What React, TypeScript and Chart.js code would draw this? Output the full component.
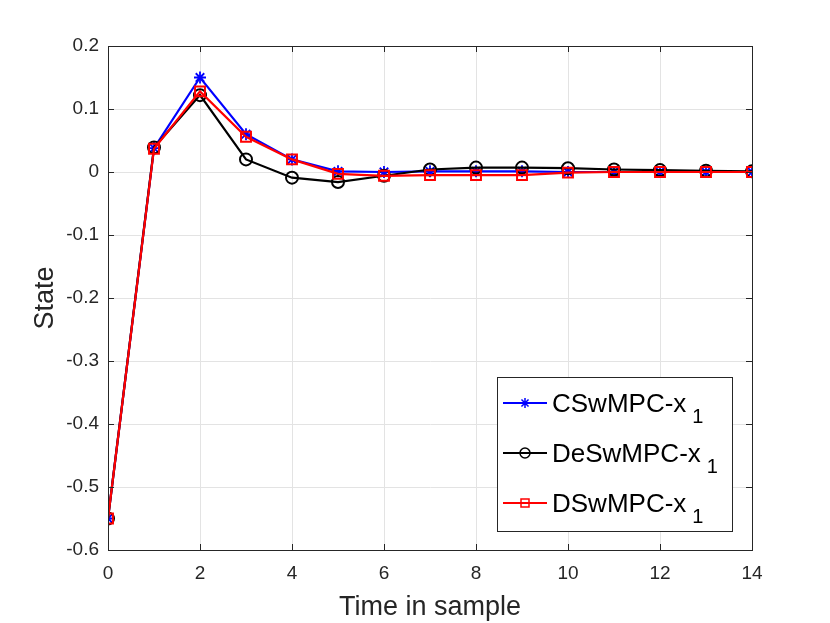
import { useEffect, useRef } from 'react';
import { Chart, registerables } from 'chart.js';

Chart.register(...registerables);

const timeSteps = [0, 1, 2, 3, 4, 5, 6, 7, 8, 9, 10, 11, 12, 13, 14];
const cswmpcX1 = [-0.55, 0.038, 0.15, 0.06, 0.02, 0.001, 0.0, 0.001, 0.001, 0.001, 0.0, 0.0, 0.0, 0.0, 0.0];
const deswmpcX1 = [-0.55, 0.039, 0.122, 0.02, -0.009, -0.016, -0.006, 0.004, 0.007, 0.007, 0.006, 0.004, 0.003, 0.002, 0.001];
const dswmpcX1 = [-0.55, 0.037, 0.128, 0.056, 0.02, -0.003, -0.006, -0.005, -0.005, -0.005, -0.001, 0.0, 0.0, 0.0, 0.0];

const legendNames = ['CSwMPC-x', 'DeSwMPC-x', 'DSwMPC-x'];
const legendColors = ['#0000ff', '#000000', '#ff0000'];
const legendMarkers = ['star', 'circle', 'rect'];

const FONT = '"Liberation Sans", Arial, Helvetica, sans-serif';
const AXIS_COLOR = '#262626';

function drawMarker(ctx: CanvasRenderingContext2D, kind: string, x: number, y: number, color: string) {
  ctx.save();
  ctx.strokeStyle = color;
  ctx.lineWidth = 1.5;
  ctx.beginPath();
  if (kind === 'circle') {
    ctx.arc(x, y, 5, 0, Math.PI * 2);
  } else if (kind === 'rect') {
    ctx.rect(x - 4, y - 4, 8, 8);
  } else {
    const r = 5;
    ctx.moveTo(x - r, y); ctx.lineTo(x + r, y);
    ctx.moveTo(x, y - r); ctx.lineTo(x, y + r);
    const d = r * Math.SQRT1_2;
    ctx.moveTo(x - d, y - d); ctx.lineTo(x + d, y + d);
    ctx.moveTo(x - d, y + d); ctx.lineTo(x + d, y - d);
  }
  ctx.stroke();
  ctx.restore();
}

// box, inward ticks, axis titles and the legend with subscripts
const decorPlugin = {
  id: 'decor',
  afterDraw(chart: any) {
    const { ctx, chartArea: a, scales } = chart;
    const xs = scales.x;
    const ys = scales.y;
    ctx.save();
    ctx.strokeStyle = AXIS_COLOR;
    ctx.lineWidth = 1;
    ctx.strokeRect(a.left + 0.5, a.top + 0.5, a.right - a.left, a.bottom - a.top);

    ctx.beginPath();
    xs.ticks.forEach((t: any) => {
      const px = Math.round(xs.getPixelForValue(t.value)) + 0.5;
      ctx.moveTo(px, a.bottom); ctx.lineTo(px, a.bottom - 6);
      ctx.moveTo(px, a.top); ctx.lineTo(px, a.top + 6);
    });
    ys.ticks.forEach((t: any) => {
      const py = Math.round(ys.getPixelForValue(t.value)) + 0.5;
      ctx.moveTo(a.left, py); ctx.lineTo(a.left + 6, py);
      ctx.moveTo(a.right, py); ctx.lineTo(a.right - 6, py);
    });
    ctx.stroke();

    // axis titles
    ctx.fillStyle = AXIS_COLOR;
    ctx.font = `27px ${FONT}`;
    ctx.textAlign = 'center';
    ctx.textBaseline = 'alphabetic';
    ctx.fillText('Time in sample', (a.left + a.right) / 2, 615);
    ctx.save();
    ctx.translate(53, (a.top + a.bottom) / 2);
    ctx.rotate(-Math.PI / 2);
    ctx.fillText('State', 0, 0);
    ctx.restore();

    // legend
    const bx = 497, by = 377, bw = 235, bh = 154;
    ctx.fillStyle = '#ffffff';
    ctx.fillRect(bx, by, bw, bh);
    ctx.strokeStyle = AXIS_COLOR;
    ctx.strokeRect(bx + 0.5, by + 0.5, bw, bh);
    legendNames.forEach((name, i) => {
      const rowY = 403 + i * 50;
      ctx.strokeStyle = legendColors[i];
      ctx.lineWidth = 2;
      ctx.beginPath();
      ctx.moveTo(503, rowY); ctx.lineTo(547, rowY);
      ctx.stroke();
      drawMarker(ctx, legendMarkers[i], 525, rowY, legendColors[i]);
      ctx.fillStyle = '#000000';
      ctx.textAlign = 'left';
      ctx.font = `26px ${FONT}`;
      ctx.fillText(name, 552, rowY + 9);
      const w = ctx.measureText(name).width;
      ctx.font = `20px ${FONT}`;
      ctx.fillText('1', 552 + w + 6, rowY + 20);
    });
    ctx.restore();
  },
};

export default function App() {
  const canvasRef = useRef<HTMLCanvasElement>(null);
  const chartRef = useRef<Chart | null>(null);

  useEffect(() => {
    document.body.style.margin = '0';
    if (!canvasRef.current) return;
    if (chartRef.current) chartRef.current.destroy();

    const points = (vals: number[]) => vals.map((v, i) => ({ x: timeSteps[i], y: v }));

    chartRef.current = new Chart(canvasRef.current, {
      type: 'line',
      data: {
        datasets: [
          {
            label: 'CSwMPC-x1',
            data: points(cswmpcX1),
            borderColor: '#0000ff',
            backgroundColor: '#0000ff',
            borderWidth: 2.2,
            pointStyle: 'star',
            pointRadius: 6,
            pointBorderWidth: 1.8,
            order: 2,
          },
          {
            label: 'DeSwMPC-x1',
            data: points(deswmpcX1),
            borderColor: '#000000',
            backgroundColor: 'rgba(0,0,0,0)',
            borderWidth: 2.2,
            pointStyle: 'circle',
            pointRadius: 6,
            pointBorderWidth: 2,
            order: 1,
          },
          {
            label: 'DSwMPC-x1',
            data: points(dswmpcX1),
            borderColor: '#ff0000',
            backgroundColor: 'rgba(0,0,0,0)',
            borderWidth: 2.2,
            pointStyle: 'rect',
            pointRadius: 7,
            pointBorderWidth: 2,
            order: 0,
          },
        ],
      },
      options: {
        animation: false,
        responsive: true,
        maintainAspectRatio: false,
        layout: { padding: { left: 0, top: 46, right: 78, bottom: 0 } },
        plugins: {
          legend: { display: false },
          tooltip: { enabled: false },
        },
        elements: { line: { tension: 0 } },
        scales: {
          x: {
            type: 'linear',
            min: 0,
            max: 14,
            afterFit: (s: any) => { s.height = 73; },
            ticks: {
              stepSize: 2,
              color: AXIS_COLOR,
              font: { family: FONT, size: 19 },
              padding: 12,
            },
            grid: { color: '#e3e3e3', drawTicks: false },
            border: { color: AXIS_COLOR },
          },
          y: {
            type: 'linear',
            min: -0.6,
            max: 0.2,
            afterFit: (s: any) => { s.width = 108; },
            ticks: {
              stepSize: 0.1,
              color: AXIS_COLOR,
              font: { family: FONT, size: 19 },
              padding: 9,
              callback: (v: any) => (Math.abs(v) < 1e-9 ? '0' : Number(v).toFixed(1)),
            },
            grid: { color: '#e3e3e3', drawTicks: false },
            border: { color: AXIS_COLOR },
          },
        },
      },
      plugins: [decorPlugin],
    });

    return () => {
      if (chartRef.current) {
        chartRef.current.destroy();
        chartRef.current = null;
      }
    };
  }, []);

  return (
    <div style={{ width: '830px', height: '623px', background: '#ffffff' }}>
      <canvas ref={canvasRef} />
    </div>
  );
}
